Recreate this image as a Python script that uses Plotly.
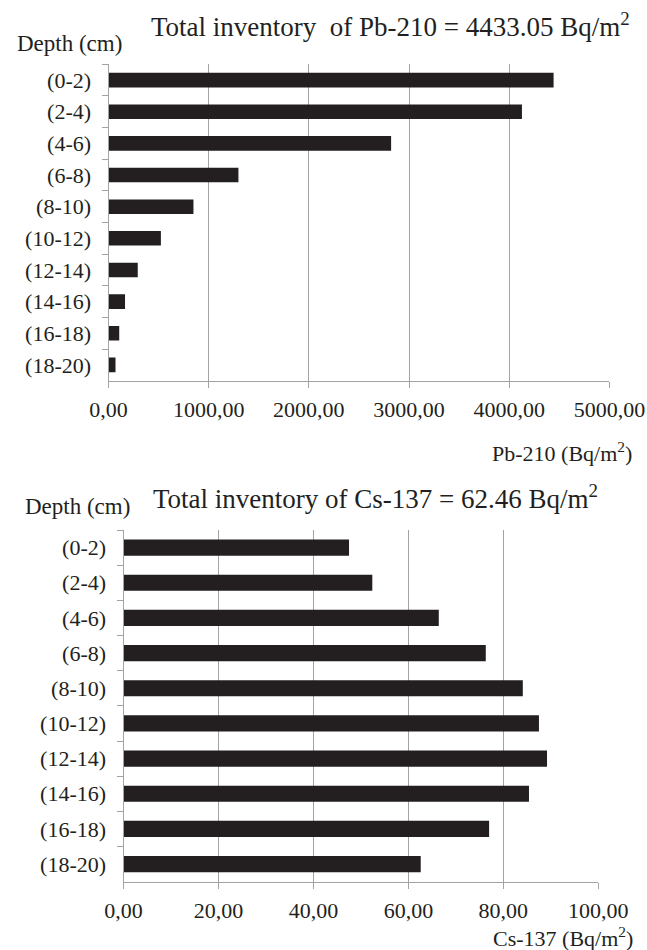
import plotly.graph_objects as go

# Depth intervals of the sediment core (top to bottom)
depths = ["(0-2)", "(2-4)", "(4-6)", "(6-8)", "(8-10)",
          "(10-12)", "(12-14)", "(14-16)", "(16-18)", "(18-20)"]

# Inventory per interval, Bq/m2
pb210 = [4443, 4127, 2821, 1297, 848, 523, 292, 165, 107, 70]
cs137 = [47.5, 52.4, 66.4, 76.3, 84.1, 87.5, 89.2, 85.4, 77.0, 62.6]

pb_ticks = [0, 1000, 2000, 3000, 4000, 5000]
cs_ticks = [0, 20, 40, 60, 80, 100]

W, H = 647, 950
FONT = "Liberation Serif"
INK = "#231f20"
BAR = "#231f20"
GRID = "#a3a3a3"


def px_x(p):
    return p / W


def px_y(p):
    return 1 - p / H


fig = go.Figure()

fig.add_trace(go.Bar(x=pb210, y=depths, orientation="h",
                     marker=dict(color=BAR, line=dict(width=0)),
                     xaxis="x", yaxis="y", showlegend=False))
fig.add_trace(go.Bar(x=cs137, y=depths, orientation="h",
                     marker=dict(color=BAR, line=dict(width=0)),
                     xaxis="x2", yaxis="y2", showlegend=False))

common_x = dict(showgrid=True, gridcolor=GRID, gridwidth=1,
                showline=True, linecolor=GRID, linewidth=1,
                ticks="outside", ticklen=6, tickcolor=GRID,
                tickformat=".2f", zeroline=False, automargin=False,
                tickfont=dict(family=FONT, size=22, color=INK),
                ticklabelstandoff=3)
common_y = dict(showgrid=False, showline=True, linecolor=GRID, linewidth=1,
                ticks="outside", ticklen=6, tickcolor=GRID,
                tickson="boundaries", autorange="reversed", automargin=False,
                tickfont=dict(family=FONT, size=22, color=INK),
                ticklabelstandoff=12)

fig.update_layout(
    width=W, height=H,
    margin=dict(l=0, r=0, t=0, b=0),
    paper_bgcolor="white", plot_bgcolor="white",
    font=dict(family=FONT, color=INK),
    separators=", ",
    bargap=0.54,
    xaxis=dict(domain=[px_x(108.5), px_x(609.4)], anchor="y",
               range=[0, 5000], tickvals=pb_ticks, **common_x),
    yaxis=dict(domain=[px_y(380.7), px_y(64.3)], anchor="x", **common_y),
    xaxis2=dict(domain=[px_x(123.5), px_x(598.3)], anchor="y2",
                range=[0, 100], tickvals=cs_ticks, **common_x),
    yaxis2=dict(domain=[px_y(881.7), px_y(530)], anchor="x2", **common_y),
)

annotations = [
    dict(text="Total inventory  of Pb-210 = 4433.05 Bq/m<sup>2</sup>",
         x=px_x(390), y=px_y(25), xanchor="center", yanchor="middle",
         font=dict(family=FONT, size=27, color=INK)),
    dict(text="Depth (cm)", x=px_x(15), y=px_y(44), xanchor="left",
         yanchor="middle", font=dict(family=FONT, size=23, color=INK)),
    dict(text="Pb-210 (Bq/m<sup>2</sup>)", x=px_x(634), y=px_y(452),
         xanchor="right", yanchor="middle",
         font=dict(family=FONT, size=22, color=INK)),
    dict(text="Total inventory of Cs-137 = 62.46 Bq/m<sup>2</sup>",
         x=px_x(375), y=px_y(497), xanchor="center", yanchor="middle",
         font=dict(family=FONT, size=27, color=INK)),
    dict(text="Depth (cm)", x=px_x(23), y=px_y(506), xanchor="left",
         yanchor="middle", font=dict(family=FONT, size=23, color=INK)),
    dict(text="Cs-137 (Bq/m<sup>2</sup>)", x=px_x(635), y=px_y(937),
         xanchor="right", yanchor="middle",
         font=dict(family=FONT, size=22, color=INK)),
]
for a in annotations:
    a.update(xref="paper", yref="paper", showarrow=False)
fig.update_layout(annotations=annotations)

fig.write_html("out.html")
